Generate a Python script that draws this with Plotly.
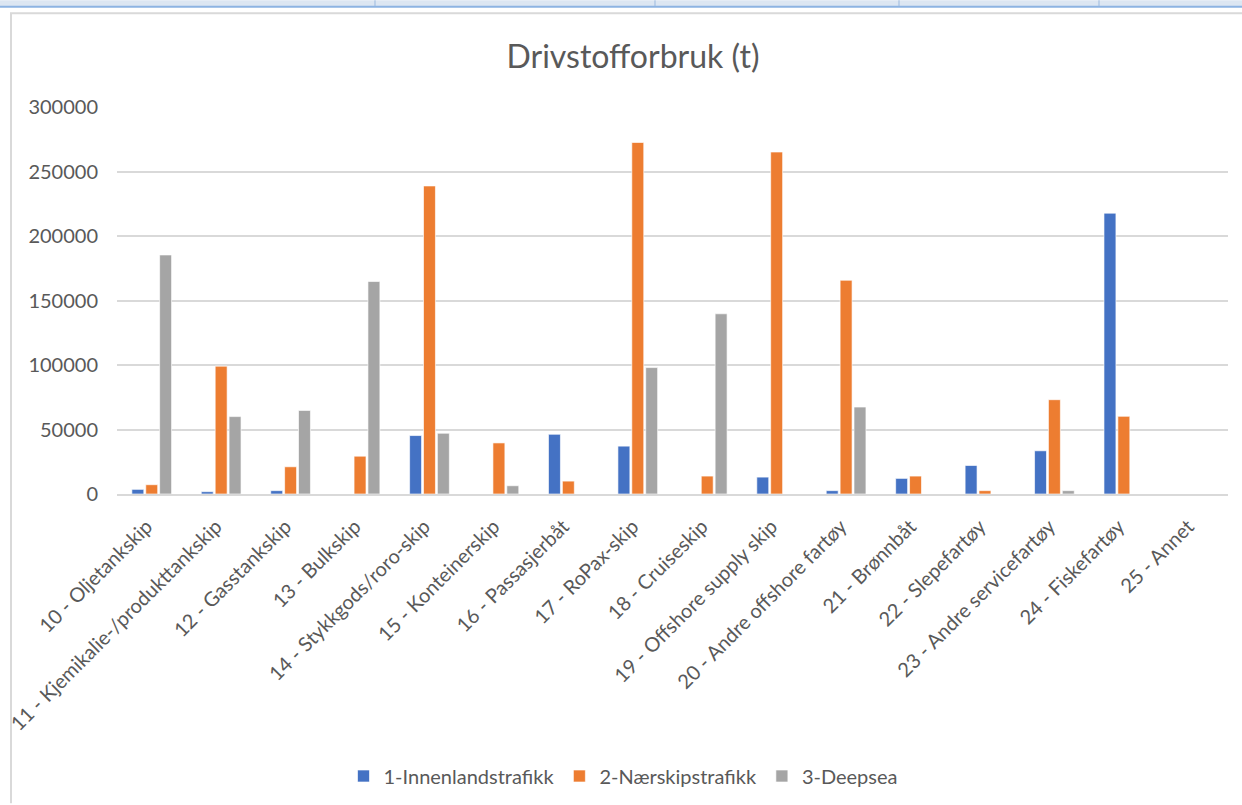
import plotly.graph_objects as go

# Ship categories (x axis)
categories = [
    "10 - Oljetankskip",
    "11 - Kjemikalie-/produkttankskip",
    "12 - Gasstankskip",
    "13 - Bulkskip",
    "14 - Stykkgods/roro-skip",
    "15 - Konteinerskip",
    "16 - Passasjerbåt",
    "17 - RoPax-skip",
    "18 - Cruiseskip",
    "19 - Offshore supply skip",
    "20 - Andre offshore fartøy",
    "21 - Brønnbåt",
    "22 - Slepefartøy",
    "23 - Andre servicefartøy",
    "24 - Fiskefartøy",
    "25 - Annet",
]

# Fuel consumption in tonnes per traffic type
innenland = [3600, 1800, 2600, 0, 45300, 0, 46300, 37100, 0, 13100, 2600, 12100, 22100, 33500, 217700, 0]
naerskip = [7200, 99100, 21100, 29300, 238800, 39600, 10000, 272500, 13900, 265100, 165700, 13900, 2600, 73100, 60200, 0]
deepsea = [185300, 60000, 64800, 164700, 47100, 6400, 0, 98000, 139700, 0, 67400, 0, 0, 2600, 0, 0]

series_names = ["1-Innenlandstrafikk", "2-Nærskipstrafikk", "3-Deepsea"]
series_colors = ["#4472C4", "#ED7D31", "#A5A5A5"]

y_ticks = [0, 50000, 100000, 150000, 200000, 250000, 300000]

W, H = 1242, 805
L, R, T, B = 117, 1228, 107, 495  # plot area in pixels

FONT = "Lato"
TXT = "#595959"

fig = go.Figure()
for name, vals, col in zip(series_names, [innenland, naerskip, deepsea], series_colors):
    fig.add_trace(go.Bar(
        x=categories, y=vals, name=name,
        marker=dict(color=col, line=dict(color="rgba(255,255,255,0.8)", width=0.8)),
    ))


def px(xp):
    return (xp - L) / (R - L)


def py(yp):
    return (B - yp) / (B - T)


shapes = [
    # spreadsheet header strip above the chart
    dict(type="rect", xref="paper", yref="paper", x0=px(0), x1=px(W), y0=py(6), y1=py(0),
         fillcolor="#DCE6F2", line=dict(width=0), layer="above"),
    dict(type="line", xref="paper", yref="paper", x0=px(0), x1=px(W), y0=py(6.5), y1=py(6.5),
         line=dict(color="#8DB3E2", width=2)),
]
for sx in [375, 655, 899, 1099]:
    shapes.append(dict(type="line", xref="paper", yref="paper", x0=px(sx), x1=px(sx),
                       y0=py(6), y1=py(0), line=dict(color="#9BB9DF", width=1)))
# chart frame (left and top edges)
shapes.append(dict(type="path", xref="paper", yref="paper",
                   path=f"M {px(11)} {py(H)} L {px(11)} {py(13)} L {px(W)} {py(13)}",
                   line=dict(color="#D9D9D9", width=2)))

fig.update_layout(
    width=W, height=H,
    margin=dict(l=L, r=W - R, t=T, b=H - B),
    paper_bgcolor="white", plot_bgcolor="white",
    font=dict(family=FONT, color=TXT),
    title=dict(text="Drivstofforbruk (t)", x=633 / W, xanchor="center",
               y=1 - 57 / H, yanchor="middle", font=dict(size=32, color=TXT, family=FONT)),
    barmode="group", bargap=0.40, bargroupgap=0.14,
    showlegend=True,
    legend=dict(orientation="h", x=px(623), xanchor="center", y=py(776), yanchor="middle",
                font=dict(size=20, color=TXT, family=FONT), itemwidth=30,
                traceorder="normal"),
    shapes=shapes,
    xaxis=dict(tickangle=-45, tickfont=dict(size=20, color=TXT, family=FONT),
               showgrid=False, showline=True, linecolor="#D9D9D9", linewidth=2,
               ticks="", ticklen=0, ticklabelstandoff=11, ticklabelshift=-5,
               automargin=False),
    yaxis=dict(range=[0, 300000], tickvals=y_ticks, ticktext=[str(v) for v in y_ticks],
               tickfont=dict(size=20, color=TXT, family=FONT),
               showgrid=True, gridcolor="#D9D9D9", gridwidth=2, zeroline=False,
               showline=False, ticks="", ticklabelstandoff=18, automargin=False),
)

fig.write_html("out.html")
